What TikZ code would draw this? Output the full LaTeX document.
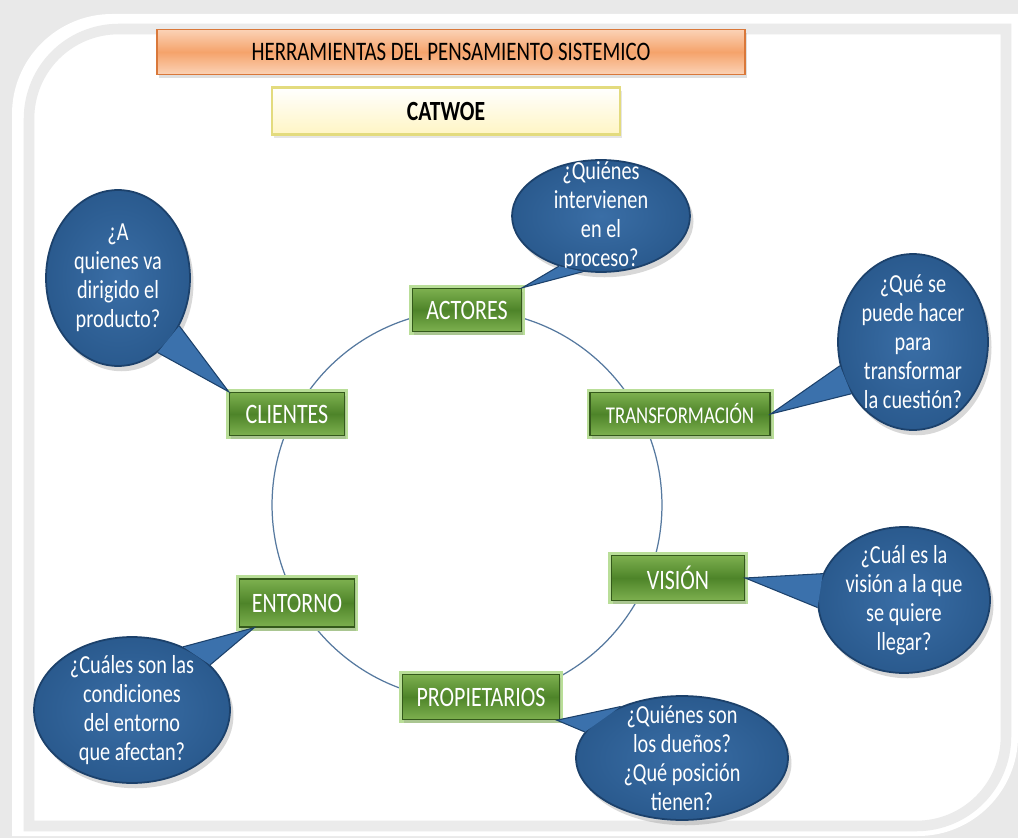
\documentclass[tikz,border=0pt]{standalone}
\usepackage{fontspec}
\setmainfont{Carlito}[FakeStretch=0.78]
\usetikzlibrary{shapes.geometric,shadows}

\definecolor{fondo}{HTML}{E9E9E9}
\definecolor{verde}{HTML}{4E8429}
\definecolor{verdeClaro}{HTML}{7DB04F}
\definecolor{verdeBorde}{HTML}{34591B}
\definecolor{verdeBrillo}{HTML}{B9DE98}
\definecolor{azul}{HTML}{2A5A8E}
\definecolor{azulClaro}{HTML}{3A6EA6}
\definecolor{azulOscuro}{HTML}{1C416B}
\definecolor{azulCola}{HTML}{3B71AC}
\definecolor{naranja}{HTML}{F5A36B}
\definecolor{naranjaClaro}{HTML}{FBD2B6}
\definecolor{naranjaBorde}{HTML}{D9783A}
\definecolor{crema}{HTML}{FFF5C4}
\definecolor{cremaBorde}{HTML}{E3DB7E}
\definecolor{linea}{HTML}{56799F}

\tikzset{
  titulo/.style={rectangle, draw=naranjaBorde, line width=0.8pt,
    top color=naranjaClaro, bottom color=naranjaClaro, middle color=naranja,
    font=\fontsize{15.2}{18}\selectfont, minimum height=0.9cm,
    drop shadow={opacity=0.25, shadow xshift=1pt, shadow yshift=-2pt}},
  subtitulo/.style={rectangle, draw=cremaBorde, line width=1.5pt,
    top color=white, bottom color=crema,
    font=\fontsize{15.8}{18}\bfseries, minimum height=0.94cm,
    drop shadow={opacity=0.2, shadow xshift=1pt, shadow yshift=-2pt}},
  etiqueta/.style={rectangle, draw=verdeBorde, line width=0.8pt,
    top color=verdeClaro, bottom color=verdeClaro, middle color=verde,
    text=white, font=\fontsize{16}{19}\selectfont, minimum height=0.86cm,
    preaction={draw=verdeBrillo, line width=4pt},
    drop shadow={opacity=0.25, shadow xshift=1pt, shadow yshift=-2pt}},
  burbuja/.style={ellipse, draw=azulOscuro, line width=1pt, inner sep=0pt,
    inner color=azulClaro, outer color=azul,
    drop shadow={opacity=0.3, shadow xshift=2pt, shadow yshift=-3pt}},
  texto/.style={text=white, align=center, font=\fontsize{14.8}{16.5}\selectfont},
  cola/.style={fill=azulCola},
  colaborde/.style={draw=azulOscuro, line width=0.6pt},
  circulo/.style={draw=linea, line width=0.7pt}
}

\begin{document}
\begin{tikzpicture}[x=0.02cm, y=-0.02cm]
\useasboundingbox (0,0) rectangle (1018,838);

% marco
\fill[fondo] (0,0) rectangle (1018,838);
\fill[white] (12,836) -- (12,114) .. controls (12,59) and (57,14) .. (112,14)
  -- (1018,14) -- (1018,736) .. controls (1018,791) and (973,836) .. (918,836) -- cycle;
\draw[gray!16, line width=6pt, fill=white] (29,826) -- (29,119) .. controls (29,69) and (69,29) .. (119,29)
  -- (1006,29) -- (1006,736) .. controls (1006,786) and (966,826) .. (916,826) -- cycle;

% titulos
\node[titulo, minimum width=11.76cm] (tit) at (451,52) {HERRAMIENTAS DEL PENSAMIENTO SISTEMICO};
\node[subtitulo, minimum width=6.96cm] (cat) at (446,111) {CATWOE};

% circulo
\draw[circulo] (467,505) circle [radius=3.9cm];

% etiquetas
\node[etiqueta, minimum width=2.18cm] (a) at (467,310) {ACTORES};
\node[etiqueta, minimum width=2.3cm] (c) at (287,414) {CLIENTES};
\node[etiqueta, minimum width=3.6cm, font=\fontsize{13.7}{16}\selectfont] (t) at (680,414) {TRANSFORMACIÓN};
\node[etiqueta, minimum width=2.66cm, minimum height=0.9cm] (v) at (678,578) {VISIÓN};
\node[etiqueta, minimum width=2.3cm, minimum height=0.96cm] (e) at (297,603) {ENTORNO};
\node[etiqueta, minimum width=3.14cm, minimum height=0.9cm] (p) at (481,697) {PROPIETARIOS};

% burbujas
\node[burbuja, minimum width=3.56cm, minimum height=2.24cm,
  label={[texto, name=tqa]center:¿Quiénes\\intervienen\\en el\\proceso?}] (qa) at (601,216) {};
\node[burbuja, minimum width=2.88cm, minimum height=3.52cm,
  label={[texto, name=tqc]center:¿A\\quienes va\\dirigido el\\producto?}] (qc) at (118,278) {};
\node[burbuja, minimum width=3.0cm, minimum height=3.52cm,
  label={[texto, name=tqt]center:¿Qué se\\puede hacer\\para\\transformar\\la cuestión?}] (qt) at (913,342) {};
\node[burbuja, minimum width=3.44cm, minimum height=2.92cm,
  label={[texto, name=tqv]center:¿Cuál es la\\visión a la que\\se quiere\\llegar?}] (qv) at (904,600) {};
\node[burbuja, minimum width=3.92cm, minimum height=2.92cm,
  label={[texto, name=tqe]center:¿Cuáles son las\\condiciones\\del entorno\\que afectan?}] (qe) at (132,710) {};
\node[burbuja, minimum width=4.24cm, minimum height=2.48cm,
  label={[texto, name=tqp]center:¿Quiénes son\\los dueños?\\¿Qué posición\\tienen?}] (qp) at (682,758) {};

% colas
\fill[cola] (qa.-130) -- (a.north east) -- (qa.-108) -- cycle;
\draw[colaborde] (qa.-130) -- (a.north east) -- (qa.-108);
\fill[cola] (qc.-62) -- (c.north west) -- (qc.-38) -- cycle;
\draw[colaborde] (qc.-62) -- (c.north west) -- (qc.-38);
\fill[cola] (qt.-162) -- (t.east) -- (qt.-140) -- cycle;
\draw[colaborde] (qt.-162) -- (t.east) -- (qt.-140);
\fill[cola] (qv.162) -- (v.east) -- (qv.185) -- cycle;
\draw[colaborde] (qv.162) -- (v.east) -- (qv.185);
\fill[cola] (qe.51) -- (e.-150) -- (qe.30) -- cycle;
\draw[colaborde] (qe.51) -- (e.-150) -- (qe.30);
\fill[cola] (qp.140) -- (p.-17) -- (qp.165) -- cycle;
\draw[colaborde] (qp.140) -- (p.-17) -- (qp.165);
\end{tikzpicture}
\end{document}
